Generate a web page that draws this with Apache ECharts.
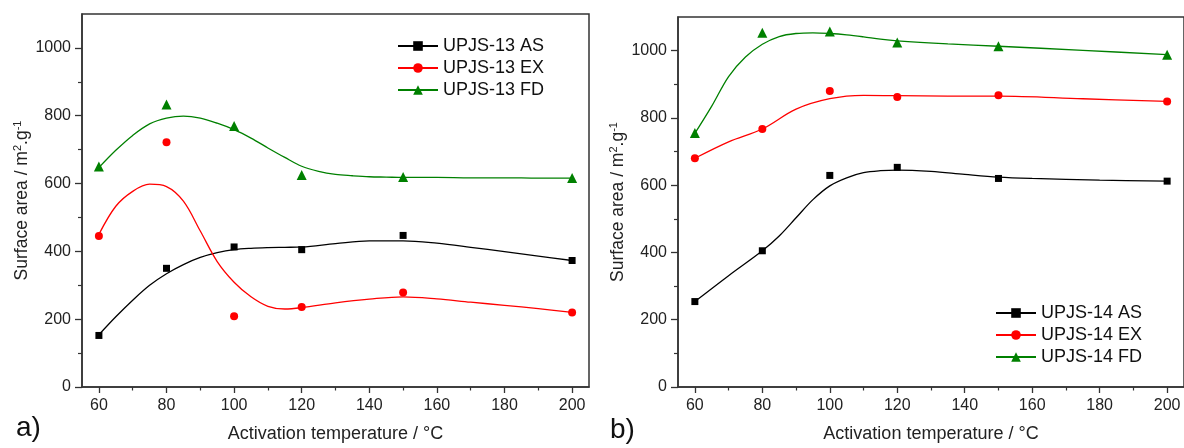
<!DOCTYPE html>
<html>
<head>
<meta charset="utf-8">
<script src="https://cdn.jsdelivr.net/npm/echarts@6/dist/echarts.min.js"></script>
<style>
html,body{margin:0;padding:0;background:#fff;}
#main{width:1184px;height:448px;}
</style>
</head>
<body>
<div id="main"></div>
<script>
// ---- data ----
var temps = [60, 80, 100, 120, 150, 200];

// Panel a) measured points
var a_AS = [152, 350, 413, 405, 447, 373];
var a_EX = [445, 722, 209, 236, 279, 220];
var a_FD = [650, 833, 770, 625, 619, 616];

// Panel b) measured points
var b_AS = [254, 405, 629, 653, 620, 612];
var b_EX = [680, 767, 880, 862, 867, 849];
var b_FD = [755, 1053, 1057, 1024, 1013, 988];

// Fitted curves (x positions and values)
var a_AS_fitX = [60, 65, 70, 75, 80, 85, 90, 95, 100, 105, 110, 115, 120, 130, 140, 150, 160, 170, 180, 190, 200];
var a_AS_fitY = [154, 207, 256, 300, 334, 361, 382, 396, 405, 409, 411, 412, 413, 423, 431, 431, 424, 412, 399, 386, 373];
var a_EX_fitX = [60, 65, 70, 75, 80, 85, 90, 95, 100, 105, 110, 115, 120, 130, 140, 150, 160, 170, 180, 190, 200];
var a_EX_fitY = [450, 533, 577, 598, 591, 548, 460, 370, 309, 266, 238, 230, 234, 248, 259, 266, 260, 250, 241, 231, 220];
var a_FD_fitX = [60, 65, 70, 75, 80, 85, 90, 95, 100, 105, 110, 115, 120, 125, 130, 135, 140, 145, 150, 160, 170, 180, 190, 200];
var a_FD_fitY = [647, 698, 742, 776, 793, 799, 793, 778, 759, 734, 705, 677, 651, 636, 627, 623, 620, 619, 618, 618, 617, 617, 616, 616];

var b_AS_fitX = [60, 70, 80, 85, 90, 95, 100, 105, 110, 115, 120, 130, 140, 150, 160, 180, 200];
var b_AS_fitY = [254, 331, 405, 449, 503, 557, 598, 622, 637, 643, 645, 641, 632, 624, 620, 615, 612];
var b_EX_fitX = [60, 70, 80, 90, 100, 110, 120, 135, 150, 175, 200];
var b_EX_fitY = [680, 729, 767, 826, 857, 867, 866, 865, 865, 857, 849];
var b_FD_fitX = [60, 65, 70, 75, 80, 85, 90, 95, 100, 105, 110, 115, 120, 135, 150, 175, 200];
var b_FD_fitY = [754, 835, 923, 981, 1019, 1042, 1051, 1053, 1051, 1047, 1041, 1034, 1029, 1020, 1013, 1001, 988];

var xTicks = [60, 80, 100, 120, 140, 160, 180, 200];
var xMinorTicks = [70, 90, 110, 130, 150, 170, 190];
var yTicks = [0, 200, 400, 600, 800, 1000];
var yMinorTicks = [100, 300, 500, 700, 900];

var namesA = ['UPJS-13 AS', 'UPJS-13 EX', 'UPJS-13 FD'];
var namesB = ['UPJS-14 AS', 'UPJS-14 EX', 'UPJS-14 FD'];

// ---- styles ----
var FONT = 'Liberation Sans, Arial, Helvetica, sans-serif';
var colors = ['#000000', '#ff0000', '#008000'];
var symbols = ['rect', 'circle', 'triangle'];
var symSizes = [7, 8, 10];
var axisColor = '#333';

function pairs(xs, ys) { return xs.map(function (x, i) { return [x, ys[i]]; }); }
function plain(v) { return String(v); }

function mainX(gi) {
  return {
    type: 'value', gridIndex: gi, min: 55, max: 205, position: 'bottom',
    name: 'Activation temperature / °C', nameLocation: 'middle', nameGap: 38,
    nameTextStyle: { fontFamily: FONT, fontSize: 18, color: '#222' },
    axisLine: { show: true, lineStyle: { color: axisColor, width: 1.5 } },
    axisTick: { show: true, inside: false, length: 6, customValues: xTicks, lineStyle: { color: axisColor, width: 1.3 } },
    axisLabel: { show: true, margin: 11, customValues: xTicks, formatter: plain, fontFamily: FONT, fontSize: 16, color: '#222' },
    splitLine: { show: false }
  };
}
function minorX(gi) {
  return {
    type: 'value', gridIndex: gi, min: 55, max: 205, position: 'bottom',
    axisLine: { show: false },
    axisTick: { show: true, inside: false, length: 3.5, customValues: xMinorTicks, lineStyle: { color: axisColor, width: 1.2 } },
    axisLabel: { show: false },
    splitLine: { show: false }
  };
}
function mainY(gi) {
  return {
    type: 'value', gridIndex: gi, min: 0, max: 1100, position: 'left',
    name: 'Surface area / m{sup|2}.g{sup|-1}', nameLocation: 'middle', nameGap: 44,
    nameTextStyle: { fontFamily: FONT, fontSize: 17.5, color: '#222',
      rich: { sup: { fontFamily: FONT, fontSize: 11, color: '#222', padding: [0, 0, 10, 0] } } },
    axisLine: { show: true, lineStyle: { color: axisColor, width: 1.5 } },
    axisTick: { show: true, inside: false, length: 7, customValues: yTicks, lineStyle: { color: axisColor, width: 1.3 } },
    axisLabel: { show: true, margin: 11, customValues: yTicks, formatter: plain, fontFamily: FONT, fontSize: 16, color: '#222' },
    splitLine: { show: false }
  };
}
function minorY(gi) {
  return {
    type: 'value', gridIndex: gi, min: 0, max: 1100, position: 'left',
    axisLine: { show: false },
    axisTick: { show: true, inside: false, length: 4, customValues: yMinorTicks, lineStyle: { color: axisColor, width: 1.2 } },
    axisLabel: { show: false },
    splitLine: { show: false }
  };
}

var seriesList = [];
function addPanel(gi, names, pts, fits) {
  for (var k = 0; k < 3; k++) {
    seriesList.push({
      name: names[k], type: 'line', xAxisIndex: gi * 2, yAxisIndex: gi * 2,
      data: pairs(fits[k][0], fits[k][1]),
      smooth: 0.35, showSymbol: false, symbol: symbols[k], silent: true,
      lineStyle: { color: colors[k], width: 1.3 },
      itemStyle: { color: colors[k], opacity: 1 },
      z: 2
    });
  }
  for (var k2 = 0; k2 < 3; k2++) {
    seriesList.push({
      name: names[k2] + ' points', type: 'scatter', xAxisIndex: gi * 2, yAxisIndex: gi * 2,
      data: pairs(temps, pts[k2]),
      symbol: symbols[k2], symbolSize: symSizes[k2],
      itemStyle: { color: colors[k2], opacity: 1 },
      z: 3
    });
  }
}
addPanel(0, namesA, [a_AS, a_EX, a_FD], [[a_AS_fitX, a_AS_fitY], [a_EX_fitX, a_EX_fitY], [a_FD_fitX, a_FD_fitY]]);
addPanel(1, namesB, [b_AS, b_EX, b_FD], [[b_AS_fitX, b_AS_fitY], [b_EX_fitX, b_EX_fitY], [b_FD_fitX, b_FD_fitY]]);

function legendAt(names, left, top) {
  return {
    data: names, orient: 'vertical', left: left, top: top,
    itemWidth: 40, itemHeight: 12, itemGap: 2, padding: 0,
    selectedMode: false,
    textStyle: { fontFamily: FONT, fontSize: 18, color: '#111', lineHeight: 20 }
  };
}

var chart = echarts.init(document.getElementById('main'), null, { renderer: 'canvas' });
chart.setOption({
  backgroundColor: '#ffffff',
  animation: false,
  grid: [
    { left: 82, top: 14, width: 507, height: 377, show: true, borderColor: axisColor, borderWidth: 1.5, backgroundColor: 'transparent' },
    { left: 678, top: 17, width: 508, height: 379, show: true, borderColor: axisColor, borderWidth: 1.5, backgroundColor: 'transparent' }
  ],
  xAxis: [mainX(0), minorX(0), mainX(1), minorX(1)],
  yAxis: [mainY(0), minorY(0), mainY(1), minorY(1)],
  legend: [legendAt(namesA, 397, 36), legendAt(namesB, 995, 303)],
  graphic: [
    { type: 'text', left: 16, top: 414, style: { text: 'a)', font: '28px ' + FONT, fill: '#111' } },
    { type: 'text', left: 610, top: 416, style: { text: 'b)', font: '28px ' + FONT, fill: '#111' } }
  ],
  series: seriesList
});
</script>
</body>
</html>
